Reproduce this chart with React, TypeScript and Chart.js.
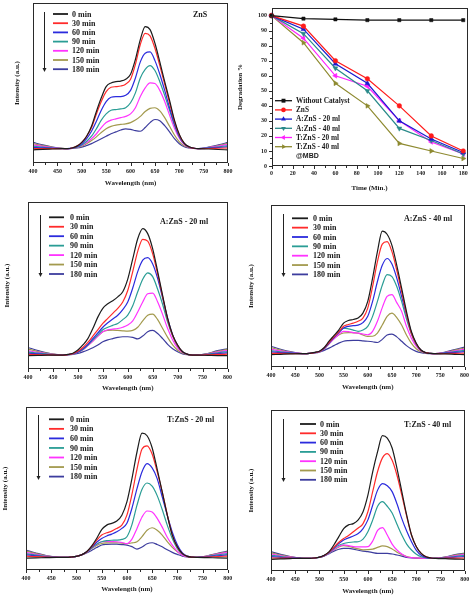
import React, { useEffect, useRef } from 'react';
import { Chart, registerables } from 'chart.js';

Chart.register(...registerables);

const SERIF = "'Liberation Serif', 'Times New Roman', serif";
const SANS = "'Liberation Sans', Arial, sans-serif";
const INK = '#2a2a2a';

// ---------- Spectra data (wavelength grid shared by all spectra) ----------
const WAVELENGTHS = [400, 420, 440, 460, 470, 480, 490, 500, 510, 520, 530, 540, 550, 560, 570, 580, 590, 600, 610, 620, 630, 640, 650, 660, 670, 680, 690, 700, 710, 720, 730, 740, 760, 780, 800];
const TIME_LABELS = ['0 min', '30 min', '60 min', '90 min', '120 min', '150 min', '180 min'];
const SERIES_COLORS = ['#1c1c1c', '#ff2b2b', '#2b2bdd', '#2a9d95', '#ff33ff', '#a39a4e', '#3d3d9e'];
const X_TICKS_SPECTRA = [400, 450, 500, 550, 600, 650, 700, 750, 800];

// ZnS
const ZNS_0 = [-1, -0.6, -0.3, 0, 0, 0.5, 2, 5, 10, 18, 30, 41, 50, 53, 54, 54.5, 56, 60, 72, 88, 98.5, 96, 85, 70, 54, 39, 23, 11.5, 4.5, 1.5, 0.3, 0, -0.3, -0.7, -1];
const ZNS_30 = [0, 0, 0, 0, 0, 0.5, 2, 5, 10, 17, 28, 38, 46, 49.5, 50, 50.5, 52, 56, 68, 84, 93, 91, 81, 67, 52, 37, 22, 11, 4.3, 1.3, 0.3, 0, 0.1, 0.3, 0.5];
const ZNS_60 = [1, 0.6, 0.3, 0, 0, 0.4, 1.5, 4, 8, 14, 22, 31, 38, 41.5, 42, 42, 43, 47, 57, 70, 77, 78, 71, 60, 47, 33, 20, 10, 4, 1.2, 0.3, 0, 0.4, 0.9, 1.5];
const ZNS_90 = [2, 1.2, 0.5, 0.1, 0, 0.3, 1.2, 3, 6, 10, 16, 23, 28, 31, 31.5, 32, 33, 37, 45, 57, 64, 67, 63, 54, 43, 31, 19, 9.5, 3.8, 1.2, 0.3, 0, 0.6, 1.4, 2.5];
const ZNS_120 = [3, 1.8, 0.8, 0.1, 0, 0.2, 1, 2.5, 5, 8, 12, 17, 21, 23, 24, 25, 26, 28, 33, 42, 49, 53, 52.5, 47, 38, 27, 16.5, 8.5, 3.3, 1, 0.2, 0, 0.8, 2, 3.5];
const ZNS_150 = [4, 2.4, 1, 0.2, 0, 0.2, 0.8, 2, 4, 6.5, 9.5, 13, 16, 18, 19, 19.5, 20, 21, 23, 26, 30, 32.5, 33, 30.5, 25, 18, 11, 5.5, 2.3, 0.8, 0.2, 0, 1, 2.5, 4.2];
const ZNS_180 = [5, 3, 1.3, 0.2, 0, 0.1, 0.5, 1.2, 2.5, 4, 6, 8, 10, 12, 13.5, 15, 16, 15.5, 14.5, 14, 17, 21, 23.5, 22.5, 18.5, 13.5, 8, 4, 1.5, 0.5, 0.1, 0, 1.2, 3, 5];

// A:ZnS - 20 ml
const A20_0 = [-0.5, -0.3, -0.1, 0, 0, 0.5, 1.5, 4, 8, 13, 21, 30, 37, 40.5, 43, 46, 50, 60, 76, 92, 100, 96, 84, 66, 47, 29, 16, 8, 2.6, 0.6, 0, 0, -0.2, -0.4, -0.5];
const A20_30 = [0.5, 0.3, 0.1, 0, 0, 0.4, 1.2, 3, 6, 10, 15, 20, 25, 29, 33, 37, 42, 51, 66, 82, 91.5, 90, 80, 64, 46, 28, 15.5, 7.5, 2.5, 0.6, 0, 0, 0.2, 0.5, 0.7];
const A20_60 = [1.5, 0.9, 0.4, 0.1, 0, 0.4, 1.1, 2.5, 5, 8.5, 13, 17.5, 22, 25.5, 28.5, 31.5, 36, 42, 53, 66, 75, 77, 72, 60.5, 45, 29, 16, 7.5, 2.5, 0.6, 0, 0, 0.4, 1.2, 1.8];
const A20_90 = [2.5, 1.5, 0.7, 0.1, 0, 0.3, 1, 2.3, 4.5, 8, 12, 16, 20, 22, 23.5, 25, 28, 31.6, 39, 50, 60, 65, 62, 52, 40, 26, 15, 7, 2.4, 0.6, 0, 0, 0.6, 1.8, 2.8];
const A20_120 = [3.5, 2.1, 1, 0.2, 0, 0.3, 1, 2.2, 4.3, 7.5, 11, 15, 18.4, 20, 20.5, 21, 22, 23.7, 27, 34, 42, 48.5, 49, 42, 32, 21, 12, 5.5, 2, 0.5, 0, 0, 0.8, 2.4, 3.7];
const A20_150 = [4.7, 2.8, 1.3, 0.2, 0, 0.3, 1, 2.2, 4.3, 7.5, 11, 15, 18.4, 19.5, 19.7, 19.5, 19.2, 19, 19.5, 22, 27, 31.5, 32.4, 28, 21, 14, 8, 3.8, 1.5, 0.4, 0, 0, 1, 3, 4.5];
const A20_180 = [6, 3.6, 1.6, 0.3, 0, 0.2, 0.6, 1.3, 2.5, 4, 5.8, 8, 10.5, 12, 13, 14, 14.5, 14.5, 14, 12.8, 15, 18.5, 19.5, 17, 13, 8.5, 5, 2.6, 1, 0.3, 0, 0, 1.2, 3.5, 5];

// A:ZnS - 40 ml
const A40_0 = [-0.8, -0.5, -0.2, 0, 0, 0.3, 1, 2, 5, 10, 14.5, 19, 24.6, 26.7, 27.5, 28.6, 32.6, 42, 60.7, 82, 98.5, 96, 87, 71, 52.7, 34, 18, 8.6, 3, 0.8, 0.2, 0, -0.2, -0.5, -0.8];
const A40_30 = [0.3, 0.2, 0.1, 0, 0, 0.3, 0.9, 1.8, 4.5, 9, 13.5, 17.5, 22, 23.5, 24.6, 26, 28.6, 36.6, 54, 74, 88, 90, 82, 67, 50, 32, 16.6, 8, 2.8, 0.8, 0.2, 0, 0.1, 0.3, 0.4];
const A40_60 = [1.4, 0.8, 0.4, 0.1, 0, 0.3, 0.9, 1.7, 4.2, 8.5, 13, 17, 20.6, 22, 22.5, 23, 25, 30, 42, 58, 71, 76.5, 72, 60.7, 46, 31.3, 17, 8, 2.8, 0.8, 0.2, 0, 0.4, 1, 1.6];
const A40_90 = [2.5, 1.5, 0.7, 0.1, 0, 0.3, 0.9, 1.7, 4.2, 8.5, 13, 17, 20.6, 20, 19, 18, 19, 22, 30, 42, 55, 63.5, 62, 54, 42, 28, 16, 7.5, 2.6, 0.7, 0.2, 0, 0.6, 1.6, 2.6];
const A40_120 = [3.6, 2.2, 1, 0.2, 0, 0.3, 0.8, 1.6, 4, 8, 12, 15.5, 18, 17.8, 17, 16.6, 15.8, 15.2, 18, 26, 37, 46, 47.5, 41, 34, 22, 12.6, 6, 2.2, 0.6, 0.1, 0, 0.9, 2.2, 3.6];
const A40_150 = [4.8, 2.9, 1.3, 0.2, 0, 0.3, 0.8, 1.6, 4, 8, 12, 15, 16.6, 17, 16.8, 16.6, 15, 13.9, 14, 16.6, 23, 30, 32.6, 29, 23, 15, 8.5, 4, 1.5, 0.4, 0.1, 0, 1.1, 2.8, 4.6];
const A40_180 = [6, 3.6, 1.6, 0.3, 0, 0.2, 0.6, 1.3, 2.7, 4.5, 6.5, 8.5, 10, 10.5, 10.7, 10.7, 10.3, 10, 9.6, 9, 11.5, 15, 15.8, 13.5, 10, 6.5, 3.8, 1.9, 0.8, 0.2, 0, 0, 1.3, 3.3, 5.3];

// T:ZnS - 20 ml
const T20_0 = [-0.6, -0.4, -0.2, 0, 0, 0, 0.3, 0.8, 2, 4.5, 9, 15, 22, 25.6, 27, 28.8, 33.5, 44, 62.5, 83.6, 98.5, 96.5, 87, 70, 52, 33.5, 17.7, 8.4, 3, 0.8, 0.2, 0, -0.2, -0.4, -0.6];
const T20_30 = [1, 0.6, 0.3, 0, 0, 0, 0.3, 0.8, 2, 4.3, 8.5, 13.5, 17.7, 19.5, 20.8, 23, 25.6, 33.5, 50, 70, 86, 88.5, 82, 68, 52, 34, 17.7, 8, 3, 0.8, 0.2, 0, 0.3, 0.7, 1];
const T20_60 = [2, 1.2, 0.5, 0.1, 0, 0, 0.3, 0.8, 2, 4.2, 8, 12, 15, 17, 18.5, 20.3, 23, 27, 39, 54.6, 68, 74.4, 71, 62.5, 48, 33.5, 20, 10, 3.5, 1, 0.2, 0, 0.5, 1.3, 2];
const T20_90 = [3, 1.8, 0.8, 0.1, 0, 0, 0.3, 0.8, 2, 4.2, 7.5, 10.5, 12.4, 13.3, 13.6, 13.7, 14.3, 16.4, 26, 41.4, 54, 59, 56.5, 49, 38, 25.6, 15, 7, 2.6, 0.7, 0.1, 0, 0.8, 2, 3];
const T20_120 = [4, 2.4, 1, 0.2, 0, 0, 0.3, 0.8, 2, 4.2, 7.5, 10.3, 12.4, 12.6, 12.5, 12.4, 11.8, 11, 14.5, 23, 32, 36.8, 36, 31, 24, 16, 9.8, 4.8, 1.8, 0.5, 0.1, 0, 1, 2.6, 4];
const T20_150 = [5, 3, 1.3, 0.2, 0, 0, 0.3, 0.8, 2, 4, 7, 9.5, 11, 11.5, 11.6, 11.6, 11.3, 11, 11.5, 12.4, 16.5, 21.5, 23.5, 21.5, 17.7, 12.5, 8, 4.5, 1.8, 0.5, 0.1, 0, 1.2, 3, 4.5];
const T20_180 = [5.8, 3.5, 1.5, 0.3, 0, 0, 0.3, 0.8, 2, 3.5, 5.5, 7.8, 9.8, 10.4, 10.6, 10.5, 10.2, 9.8, 8.5, 6.6, 8.2, 10.8, 11.6, 10.2, 8.4, 6, 4, 2.4, 1, 0.3, 0.1, 0, 1.3, 3.3, 5];

// T:ZnS - 40 ml
const T40_0 = [-0.8, -0.5, -0.2, 0, 0, 0, 0.3, 1, 2.5, 5.4, 11, 17.5, 24, 27, 28, 31, 37.6, 51, 70, 86, 99, 97, 89, 72.6, 53.8, 35, 18.8, 9.4, 4, 1.3, 0.3, 0, -0.3, -0.6, -0.8];
const T40_30 = [0.3, 0.2, 0.1, 0, 0, 0, 0.3, 0.9, 2.3, 5, 9, 13, 16, 18.5, 21.5, 24.5, 28, 37.6, 54, 70, 81, 84.5, 79, 67, 51, 34, 18.8, 9.4, 4, 1.3, 0.3, 0, 0.1, 0.2, 0.3];
const T40_60 = [1.4, 0.8, 0.4, 0.1, 0, 0, 0.3, 0.9, 2.2, 4.8, 8.5, 12, 14.8, 16.5, 18, 20, 24, 31, 43, 55, 60.3, 58.5, 53.8, 44, 32, 22, 13.4, 6.5, 2.5, 0.8, 0.2, 0, 0.4, 1, 1.4];
const T40_90 = [2.5, 1.5, 0.7, 0.1, 0, 0, 0.3, 0.9, 2.2, 4.5, 8, 10.5, 12, 12.8, 13.2, 13.4, 15.5, 21.5, 31, 42, 45.8, 42, 36.5, 27.5, 18.8, 11.5, 6.7, 3.3, 1.3, 0.4, 0.1, 0, 0.6, 1.5, 2.4];
const T40_120 = [3.5, 2.1, 1, 0.2, 0, 0, 0.3, 0.9, 2.2, 4.3, 7.2, 9.5, 10.8, 10.2, 9.4, 9.2, 9.2, 9.4, 14, 22.5, 24.8, 18.8, 11.5, 6.7, 3.5, 1.3, 0.6, 0.3, 0.1, 0, 0, 0, 0.8, 2, 3.2];
const T40_150 = [4.5, 2.7, 1.2, 0.2, 0, 0, 0.3, 0.9, 2.2, 4.3, 7, 9.2, 10.2, 9.6, 8.6, 7.6, 6.9, 7, 7.5, 8.8, 10, 9.5, 7.5, 5, 3, 1.5, 0.7, 0.3, 0.1, 0, 0, 0, 1, 2.6, 3.8];
const T40_180 = [5.4, 3.2, 1.4, 0.3, 0, 0, 0.3, 0.8, 2, 3.8, 5.8, 7.3, 8, 8, 7.5, 6.5, 5.8, 5.4, 4.6, 4, 4, 4, 3.5, 2.7, 1.8, 0.8, 0.3, 0.1, 0, 0, 0, 0, 1.2, 3, 4.2];

// ---------- Degradation data ----------
const TIME_MIN = [0, 30, 60, 90, 120, 150, 180];
const DEG_WITHOUT = [100, 98, 97.5, 97, 97, 97, 97];
const DEG_ZNS = [100, 93, 70, 58, 40, 20, 10];
const DEG_A20 = [100, 91, 68, 55, 30, 18, 9];
const DEG_A40 = [100, 88, 65, 50, 25, 17, 8];
const DEG_T20 = [100, 85, 60, 53, 30, 16, 8];
const DEG_T40 = [100, 82, 55, 40, 15, 10, 5];
const DEG_LABELS = ['Without Catalyst', 'ZnS', 'A:ZnS - 20 ml', 'A:ZnS - 40 ml', 'T:ZnS - 20 ml', 'T:ZnS - 40 ml'];
const DEG_COLORS = ['#111111', '#ff1a1a', '#1a1ad0', '#2a8a8a', '#ff20ff', '#8e8a30'];
const DEG_MARKERS = ['rect', 'circle', 'triangle', 'triangle', 'triangle', 'triangle'];
const DEG_ROTATIONS = [0, 0, 0, 180, -90, 90];

type SpecPanel = {
  box: [number, number, number, number];
  area: [number, number, number, number];
  yMin: number;
  yMax: number;
  series: number[][];
  title: string;
  titleX: number;
  titleY: number;
  arrowX: number;
  arrowTop: number;
  arrowBottom: number;
  lineX1: number;
  lineX2: number;
  textX: number;
  rowY0: number;
  rowGap: number;
  yTitlePad: number;
  xTitlePad: number;
  tickPad: number;
};

const PANELS: SpecPanel[] = [
  { box: [0, 0, 237, 195], area: [33, 3, 231, 163], yMin: -11.6, yMax: 117.5,
    series: [ZNS_0, ZNS_30, ZNS_60, ZNS_90, ZNS_120, ZNS_150, ZNS_180], title: 'ZnS', titleX: 193, titleY: 15,
    arrowX: 44, arrowTop: 12, arrowBottom: 72, lineX1: 53, lineX2: 68, textX: 72, rowY0: 14, rowGap: 9.2,
    yTitlePad: 12.5, xTitlePad: 8, tickPad: 4.4 },
  { box: [0, 195, 237, 200], area: [28, 202, 229, 369], yMin: -11, yMax: 121,
    series: [A20_0, A20_30, A20_60, A20_90, A20_120, A20_150, A20_180], title: 'A:ZnS - 20 ml', titleX: 160, titleY: 222,
    arrowX: 40, arrowTop: 215, arrowBottom: 277, lineX1: 49, lineX2: 64, textX: 70, rowY0: 217.3, rowGap: 9.45,
    yTitlePad: 2.5, xTitlePad: 3, tickPad: 5 },
  { box: [234, 195, 240, 200], area: [271, 205, 467, 367], yMin: -10.7, yMax: 119.5,
    series: [A40_0, A40_30, A40_60, A40_90, A40_120, A40_150, A40_180], title: 'A:ZnS - 40 ml', titleX: 404, titleY: 219,
    arrowX: 283, arrowTop: 214, arrowBottom: 277, lineX1: 292, lineX2: 308, textX: 313, rowY0: 218.3, rowGap: 9.35,
    yTitlePad: 12.8, xTitlePad: 4, tickPad: 5 },
  { box: [0, 395, 237, 202], area: [26, 407, 231, 570], yMin: -10, yMax: 119.3,
    series: [T20_0, T20_30, T20_60, T20_90, T20_120, T20_150, T20_180], title: 'T:ZnS - 20 ml', titleX: 167, titleY: 420,
    arrowX: 38, arrowTop: 415, arrowBottom: 480, lineX1: 49, lineX2: 64, textX: 70, rowY0: 419.3, rowGap: 9.55,
    yTitlePad: 0.8, xTitlePad: 3.8, tickPad: 4.7 },
  { box: [234, 395, 240, 202], area: [271, 410, 467, 571], yMin: -10.2, yMax: 119.6,
    series: [T40_0, T40_30, T40_60, T40_90, T40_120, T40_150, T40_180], title: 'T:ZnS - 40 ml', titleX: 404, titleY: 425,
    arrowX: 283, arrowTop: 419, arrowBottom: 482, lineX1: 300, lineX2: 316, textX: 320, rowY0: 424, rowGap: 9.3,
    yTitlePad: 12.8, xTitlePad: 1.8, tickPad: 4.7 },
];

function font(size: number, family = SERIF) {
  return `bold ${size}px ${family}`;
}

function framePlugin(xMinorStep: number, xMajorStep: number, xFrom: number, xTo: number, yTicks?: { minor: number; major: number; from: number; to: number }) {
  return {
    id: 'frame',
    afterDatasetsDraw(chart: any) {
      const { ctx, chartArea: a, scales } = chart;
      ctx.save();
      ctx.strokeStyle = INK;
      ctx.lineWidth = 1;
      ctx.strokeRect(Math.round(a.left) + 0.5, Math.round(a.top) + 0.5, Math.round(a.right - a.left) - 1, Math.round(a.bottom - a.top) - 1);
      const xs = scales.x;
      for (let v = xFrom; v <= xTo + 1e-6; v += xMinorStep) {
        const major = Math.abs(v / xMajorStep - Math.round(v / xMajorStep)) < 1e-6;
        const px = Math.round(xs.getPixelForValue(v)) + 0.5;
        ctx.beginPath();
        ctx.moveTo(px, Math.round(a.bottom));
        ctx.lineTo(px, Math.round(a.bottom) + (major ? 3 : 2));
        ctx.stroke();
      }
      if (yTicks) {
        const ys = scales.y;
        for (let v = yTicks.from; v <= yTicks.to + 1e-6; v += yTicks.minor) {
          const major = Math.abs(v / yTicks.major - Math.round(v / yTicks.major)) < 1e-6;
          const py = Math.round(ys.getPixelForValue(v)) + 0.5;
          ctx.beginPath();
          ctx.moveTo(Math.round(a.left), py);
          ctx.lineTo(Math.round(a.left) - (major ? 3 : 2), py);
          ctx.stroke();
        }
      }
      ctx.restore();
    },
  };
}

function spectrumLegendPlugin(p: SpecPanel) {
  const [bx, by] = p.box;
  return {
    id: 'specLegend',
    afterDraw(chart: any) {
      const ctx = chart.ctx as CanvasRenderingContext2D;
      ctx.save();
      const ax = p.arrowX - bx + 0.5;
      ctx.strokeStyle = '#222';
      ctx.fillStyle = '#222';
      ctx.lineWidth = 1;
      ctx.beginPath();
      ctx.moveTo(ax, p.arrowTop - by);
      ctx.lineTo(ax, p.arrowBottom - by - 3);
      ctx.stroke();
      ctx.beginPath();
      ctx.moveTo(ax - 2, p.arrowBottom - by - 4);
      ctx.lineTo(ax + 2, p.arrowBottom - by - 4);
      ctx.lineTo(ax, p.arrowBottom - by);
      ctx.closePath();
      ctx.fill();
      ctx.font = font(8);
      ctx.textBaseline = 'middle';
      ctx.textAlign = 'left';
      TIME_LABELS.forEach((lab, i) => {
        const y = p.rowY0 + i * p.rowGap - by;
        ctx.strokeStyle = SERIES_COLORS[i];
        ctx.lineWidth = 1.8;
        ctx.beginPath();
        ctx.moveTo(p.lineX1 - bx, y);
        ctx.lineTo(p.lineX2 - bx, y);
        ctx.stroke();
        ctx.fillStyle = '#1a1a1a';
        ctx.fillText(lab, p.textX - bx, y + 0.5);
      });
      ctx.font = font(8);
      ctx.fillStyle = '#1a1a1a';
      ctx.fillText(p.title, p.titleX - bx, p.titleY - by);
      ctx.restore();
    },
  };
}

function drawMarker(ctx: CanvasRenderingContext2D, style: string, x: number, y: number, r: number, rot: number) {
  ctx.save();
  ctx.translate(x, y);
  ctx.rotate((rot * Math.PI) / 180);
  ctx.beginPath();
  if (style === 'rect') {
    ctx.rect(-r * 0.85, -r * 0.85, r * 1.7, r * 1.7);
  } else if (style === 'circle') {
    ctx.arc(0, 0, r, 0, Math.PI * 2);
  } else {
    const k = r * 1.2;
    ctx.moveTo(0, -k);
    ctx.lineTo(k * 0.866, k * 0.5);
    ctx.lineTo(-k * 0.866, k * 0.5);
    ctx.closePath();
  }
  ctx.fill();
  ctx.restore();
}

const DEG_BOX: [number, number, number, number] = [234, 0, 240, 195];
const DEG_AREA: [number, number, number, number] = [271.5, 3, 467.5, 166];

function degradationLegendPlugin() {
  const [bx, by] = DEG_BOX;
  return {
    id: 'degLegend',
    afterDraw(chart: any) {
      const ctx = chart.ctx as CanvasRenderingContext2D;
      ctx.save();
      ctx.textBaseline = 'middle';
      ctx.textAlign = 'left';
      DEG_LABELS.forEach((lab, i) => {
        const y = 100.7 + i * 9.2 - by;
        ctx.strokeStyle = DEG_COLORS[i];
        ctx.fillStyle = DEG_COLORS[i];
        ctx.lineWidth = 1.3;
        ctx.beginPath();
        ctx.moveTo(275 - bx, y);
        ctx.lineTo(292 - bx, y);
        ctx.stroke();
        drawMarker(ctx, DEG_MARKERS[i], 283.5 - bx, y, 2.3, DEG_ROTATIONS[i]);
        ctx.fillStyle = '#1a1a1a';
        ctx.font = font(7.3);
        ctx.fillText(lab, 296 - bx, y + 0.5);
      });
      ctx.font = font(7, SANS);
      ctx.fillStyle = '#1a1a1a';
      ctx.fillText('@MBD', 296 - bx, 100.7 + 6 * 9.2 - by + 0.5);
      ctx.restore();
    },
  };
}

function SpectrumChart({ p }: { p: SpecPanel }) {
  const ref = useRef<HTMLCanvasElement>(null);
  useEffect(() => {
    const [bx, by, bw, bh] = p.box;
    const [L, T, R, B] = p.area;
    const datasets = p.series.map((ys, i) => ({
      label: TIME_LABELS[i],
      data: WAVELENGTHS.map((w, j) => ({ x: w, y: ys[j] })),
      borderColor: SERIES_COLORS[i],
      backgroundColor: SERIES_COLORS[i],
      borderWidth: 1.2,
      pointRadius: 0,
      cubicInterpolationMode: 'monotone' as const,
      fill: false,
    }));
    const chart = new Chart(ref.current as HTMLCanvasElement, {
      type: 'line',
      data: { datasets },
      options: {
        responsive: false,
        animation: false,
        devicePixelRatio: 1,
        events: [],
        layout: { padding: { left: 0, top: T - by, right: bx + bw - R, bottom: 0 } },
        plugins: { legend: { display: false }, tooltip: { enabled: false } },
        scales: {
          x: {
            type: 'linear',
            min: 400,
            max: 800,
            afterBuildTicks: (s: any) => { s.ticks = X_TICKS_SPECTRA.map((v) => ({ value: v })); },
            ticks: { font: { family: SERIF, size: 6, weight: 'bold' }, color: '#222', padding: p.tickPad, maxRotation: 0, autoSkip: false },
            grid: { display: false, drawTicks: false },
            border: { display: false },
            title: { display: true, text: 'Wavelength (nm)', color: '#1a1a1a', font: { family: SERIF, size: 7, weight: 'bold' }, padding: { top: 0, bottom: p.xTitlePad } },
            afterFit: (s: any) => { s.height = by + bh - B; },
          },
          y: {
            type: 'linear',
            min: p.yMin,
            max: p.yMax,
            ticks: { display: false },
            grid: { display: false, drawTicks: false },
            border: { display: false },
            title: { display: true, text: 'Intensity (a.u.)', color: '#1a1a1a', font: { family: SERIF, size: 7, weight: 'bold' }, padding: { top: p.yTitlePad, bottom: 0 } },
            afterFit: (s: any) => { s.width = L - bx; },
          },
        },
      } as any,
      plugins: [framePlugin(25, 50, 400, 800), spectrumLegendPlugin(p)],
    });
    return () => chart.destroy();
  }, [p]);
  const [bx, by, bw, bh] = p.box;
  return <canvas ref={ref} width={bw} height={bh} style={{ position: 'absolute', left: bx, top: by, width: bw, height: bh }} />;
}

function DegradationChart() {
  const ref = useRef<HTMLCanvasElement>(null);
  useEffect(() => {
    const [bx, by, bw, bh] = DEG_BOX;
    const [L, T, R, B] = DEG_AREA;
    const seriesList = [DEG_WITHOUT, DEG_ZNS, DEG_A20, DEG_A40, DEG_T20, DEG_T40];
    const datasets = seriesList.map((ys, i) => ({
      label: DEG_LABELS[i],
      data: TIME_MIN.map((t, j) => ({ x: t, y: ys[j] })),
      borderColor: DEG_COLORS[i],
      backgroundColor: DEG_COLORS[i],
      pointBackgroundColor: DEG_COLORS[i],
      pointBorderColor: DEG_COLORS[i],
      pointStyle: DEG_MARKERS[i],
      pointRotation: DEG_ROTATIONS[i],
      pointRadius: DEG_MARKERS[i] === 'triangle' ? 2.8 : 2.3,
      pointBorderWidth: 0.5,
      borderWidth: 1.2,
      tension: 0,
      fill: false,
      clip: false,
    }));
    const chart = new Chart(ref.current as HTMLCanvasElement, {
      type: 'line',
      data: { datasets },
      options: {
        responsive: false,
        animation: false,
        devicePixelRatio: 1,
        events: [],
        layout: { padding: { left: 0, top: T - by, right: bx + bw - R, bottom: 0 } },
        plugins: { legend: { display: false }, tooltip: { enabled: false } },
        scales: {
          x: {
            type: 'linear',
            min: 0,
            max: 184,
            ticks: { stepSize: 20, includeBounds: false, font: { family: SERIF, size: 6, weight: 'bold' }, color: '#222', padding: 3.4, maxRotation: 0, autoSkip: false },
            grid: { display: false, drawTicks: false },
            border: { display: false },
            title: { display: true, text: 'Time (Min.)', color: '#1a1a1a', font: { family: SERIF, size: 7, weight: 'bold' }, padding: { top: 0, bottom: 3 } },
            afterFit: (s: any) => { s.height = by + bh - B; },
          },
          y: {
            type: 'linear',
            min: 0,
            max: 105,
            ticks: { stepSize: 10, includeBounds: false, font: { family: SERIF, size: 6, weight: 'bold' }, color: '#222', padding: 4.5, autoSkip: false },
            grid: { display: false, drawTicks: false },
            border: { display: false },
            title: { display: true, text: 'Degradation %', color: '#1a1a1a', font: { family: SERIF, size: 7, weight: 'bold' }, padding: { top: 1.8, bottom: 0 } },
            afterFit: (s: any) => { s.width = L - bx; },
          },
        },
      } as any,
      plugins: [framePlugin(10, 20, 0, 180, { minor: 5, major: 10, from: 0, to: 100 }), degradationLegendPlugin()],
    });
    return () => chart.destroy();
  }, []);
  const [bx, by, bw, bh] = DEG_BOX;
  return <canvas ref={ref} width={bw} height={bh} style={{ position: 'absolute', left: bx, top: by, width: bw, height: bh }} />;
}

export default function App() {
  return (
    <div style={{ position: 'absolute', left: 0, top: 0, width: 474, height: 597, background: '#ffffff', overflow: 'hidden' }}>
      <SpectrumChart p={PANELS[0]} />
      <DegradationChart />
      <SpectrumChart p={PANELS[1]} />
      <SpectrumChart p={PANELS[2]} />
      <SpectrumChart p={PANELS[3]} />
      <SpectrumChart p={PANELS[4]} />
    </div>
  );
}
